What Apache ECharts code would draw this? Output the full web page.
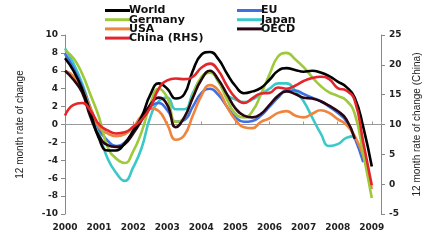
<!DOCTYPE html>
<html>
<head>
<meta charset="utf-8">
<script src="https://cdn.jsdelivr.net/npm/echarts@6/dist/echarts.min.js"></script>
<style>html,body{margin:0;padding:0;background:#fff}#c{width:431px;height:240px}</style>
</head>
<body>
<div id="c"></div>
<script>
// quarterly time points (fractional years)
const dates = [2000, 2000.25, 2000.5, 2000.75, 2001, 2001.25, 2001.5, 2001.75,
  2002, 2002.25, 2002.5, 2002.75, 2003, 2003.25, 2003.5, 2003.75,
  2004, 2004.25, 2004.5, 2004.75, 2005, 2005.25, 2005.5, 2005.75,
  2006, 2006.25, 2006.5, 2006.75, 2007, 2007.25, 2007.5, 2007.75,
  2008, 2008.25, 2008.5, 2008.75, 2009];
const yearLabels = ['2000','2001','2002','2003','2004','2005','2006','2007','2008','2009'];
const leftTicks = [-10,-8,-6,-4,-2,0,2,4,6,8,10];
const rightTicks = [-5,0,5,10,15,20,25];

const world = [7.4, 6.0, 4.0, 1.3, -1.6, -2.9, -2.9, -2.1, -0.7, 0.9, 3.3, 4.6, 4.0, 2.9, 3.4, 6.0, 7.8, 8.1, 7.3, 5.7, 4.3, 3.5, 3.7, 4.1, 5.0, 6.0, 6.3, 6.1, 5.9, 6.0, 5.8, 5.4, 4.8, 4.2, 3.0, -0.3, -4.7];
const eu = [7.9, 6.3, 4.3, 1.8, -0.5, -1.8, -2.4, -2.0, -0.8, 0.6, 2.0, 2.4, 1.6, 0.3, 0.5, 2.0, 3.5, 4.0, 3.3, 2.0, 0.8, 0.3, 0.4, 1.0, 2.0, 3.0, 3.8, 3.8, 3.4, 3.0, 2.6, 2.0, 1.3, 0.4, -1.5, -4.2];
const germany = [8.3, 7.4, 5.7, 3.3, 0.8, -2.5, -3.8, -4.3, -3.0, -0.8, 2.2, 4.0, 3.0, 0.3, 0.8, 3.2, 5.3, 5.8, 4.8, 2.8, 1.2, 0.8, 1.5, 3.4, 5.6, 7.6, 8.0, 7.3, 6.4, 5.3, 4.3, 3.6, 3.2, 2.7, 1.2, -3.3, -8.2];
const japan = [8.5, 6.8, 4.6, 1.8, -1.0, -3.8, -5.4, -6.3, -4.8, -2.6, 0.8, 2.6, 3.0, 1.7, 1.7, 3.5, 5.2, 5.9, 4.8, 3.3, 2.8, 2.5, 2.8, 3.4, 4.0, 4.6, 4.6, 3.8, 2.6, 0.8, -1.0, -2.4, -2.2, -1.5, -1.3];
const usa = [6.0, 5.4, 4.0, 1.8, -0.3, -1.0, -1.3, -1.1, -0.3, 1.0, 1.8, 1.5, 0.0, -1.7, -1.2, 1.0, 3.2, 4.4, 3.8, 2.0, 0.5, -0.3, -0.4, 0.3, 0.7, 1.3, 1.5, 1.0, 0.8, 1.2, 1.6, 1.3, 0.6, 0.0, -1.3, -3.5, -7.2];
const oecd = [6.0, 5.0, 3.6, 0.8, -1.3, -2.3, -2.5, -2.2, -1.0, 0.5, 2.2, 3.0, 2.2, -0.3, 0.8, 3.0, 5.0, 6.0, 5.0, 3.4, 1.8, 1.0, 0.8, 1.2, 2.2, 3.2, 3.7, 3.4, 3.0, 2.9, 2.6, 2.1, 1.5, 0.6, -1.6];
const china = [11.5, 13.3, 13.6, 12.3, 10.0, 9.0, 8.5, 8.7, 9.6, 10.8, 12.8, 16.0, 17.4, 17.7, 17.6, 18.0, 19.5, 20.2, 19.0, 16.5, 14.5, 13.6, 14.4, 15.2, 15.3, 16.2, 16.0, 16.5, 17.3, 17.8, 18.0, 17.6, 16.1, 15.7, 14.0, 7.0, -0.2];

const pairs = arr => arr.map((v, i) => [dates[i], v]);
const FONT = 'DejaVu Sans';

function line(name, arr, color, yIdx, z) {
  return {
    name, type: 'line', data: pairs(arr), yAxisIndex: yIdx, smooth: 0.5,
    showSymbol: false, symbol: 'none', z: z,
    lineStyle: { color, width: 2.6 }, itemStyle: { color },
    emphasis: { disabled: true }
  };
}

const legendBase = {
  orient: 'vertical', top: 5, padding: 0, itemWidth: 25, itemHeight: 3, itemGap: -1.8,
  icon: 'rect', selectedMode: false,
  textStyle: { fontFamily: FONT, fontWeight: 'bold', fontSize: 11, lineHeight: 9, color: '#111', padding: [0, 0, 0, -6] }
};

const chart = echarts.init(document.getElementById('c'), null, { renderer: 'canvas' });
chart.setOption({
  animation: false,
  backgroundColor: '#fff',
  grid: { left: 65, right: 50, top: 35, bottom: 26 },
  legend: [
    Object.assign({}, legendBase, { left: 105, data: ['World', 'Germany', 'USA', 'China (RHS)'] }),
    Object.assign({}, legendBase, { left: 237, data: ['EU', 'Japan', 'OECD'] })
  ],
  xAxis: [
    {
      type: 'value', min: 2000, max: 2009.27, interval: 1, position: 'bottom',
      axisLine: { show: false, onZero: false }, axisTick: { show: false }, splitLine: { show: false },
      axisLabel: {
        showMaxLabel: false, margin: 9, fontFamily: FONT, fontWeight: 'bold', fontSize: 9, color: '#222',
        formatter: v => yearLabels[Math.round(v - 2000)] || ''
      }
    },
    {
      type: 'value', min: 2000, max: 2009.27, interval: 1, position: 'top',
      axisLine: { show: true, onZero: true, onZeroAxisIndex: 0, lineStyle: { color: '#999', width: 1 } },
      axisTick: { show: true, length: 3, lineStyle: { color: '#999' } },
      axisLabel: { show: false }, splitLine: { show: false }
    }
  ],
  yAxis: [
    {
      type: 'value', min: -10, max: 10, interval: 2, position: 'left',
      axisLine: { show: true, lineStyle: { color: '#888' } },
      axisTick: { show: true, length: 4, lineStyle: { color: '#888' } },
      splitLine: { show: false },
      axisLabel: { margin: 7, fontFamily: FONT, fontWeight: 'bold', fontSize: 9, color: '#222',
        formatter: v => String(leftTicks.includes(v) ? v : '') },
      name: '12 month rate of change', nameLocation: 'middle', nameRotate: 90, nameGap: 40,
      nameTextStyle: { fontFamily: 'Liberation Sans', fontSize: 10, color: '#222' }
    },
    {
      type: 'value', min: -5, max: 25, interval: 5, position: 'right',
      axisLine: { show: true, lineStyle: { color: '#888' } },
      axisTick: { show: true, length: 4, lineStyle: { color: '#888' } },
      splitLine: { show: false },
      axisLabel: { margin: 8, fontFamily: FONT, fontWeight: 'bold', fontSize: 9, color: '#222',
        formatter: v => String(rightTicks.includes(v) ? v : '') },
      name: '12 month rate of change (China)', nameLocation: 'middle', nameRotate: 90, nameGap: 30,
      nameTextStyle: { fontFamily: 'Liberation Sans', fontSize: 10, color: '#222' }
    }
  ],
  series: [
    line('Japan', japan, '#3cc8c8', 0, 2),
    line('EU', eu, '#3f6fe0', 0, 3),
    line('USA', usa, '#f0843c', 0, 3),
    line('Germany', germany, '#9dc93a', 0, 4),
    line('OECD', oecd, '#2a0612', 0, 5),
    line('World', world, '#000000', 0, 6),
    line('China (RHS)', china, '#e4252b', 1, 7)
  ]
});
</script>
</body>
</html>
